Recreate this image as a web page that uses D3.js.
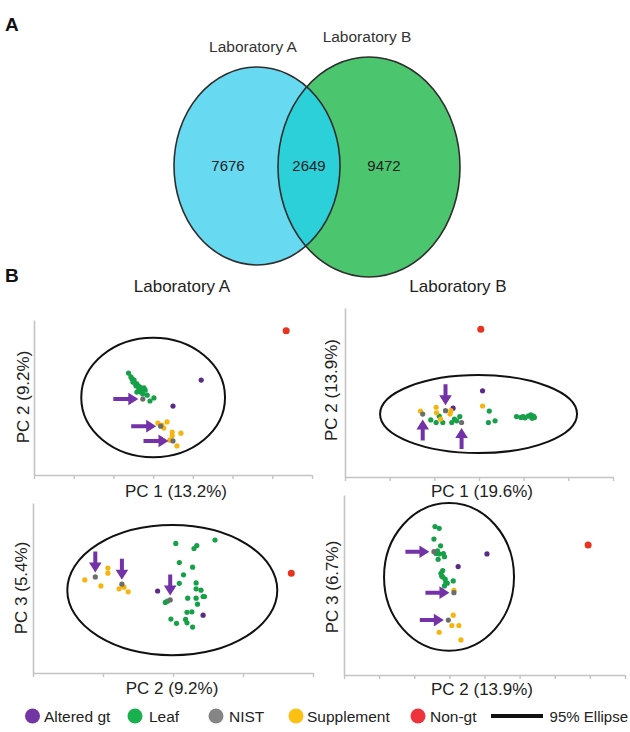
<!DOCTYPE html>
<html><head><meta charset="utf-8">
<script src="https://cdn.jsdelivr.net/npm/d3@7"></script>
<style>html,body{margin:0;padding:0;background:#fff;}svg{display:block;}</style>
</head><body>
<svg id="chart" width="630" height="732"></svg>
<script>
// ===================== DATA =====================
const vennSets = ["Laboratory A", "Laboratory B"];
const vennCounts = [7676, 2649, 9472]; // A only, shared, B only
const figLetters = ["A", "B"];
const labTitles = ["Laboratory A", "Laboratory B"];
const legendGroups = ["Altered gt", "Leaf", "NIST", "Supplement", "Non-gt"];
const ellipseLegend = "95% Ellipse";

// Panel 1: Laboratory A, PC1 vs PC2
const p1AxisTitles = ["PC 1 (13.2%)", "PC 2 (9.2%)"];
const p1XTicks = [-40, -30, -20, -10, 0, 10, 20, 30];
const p1YDomain = [-20, 20];
const p1Leaf = [[-16.2,6.3],[-15.6,5.3],[-15.3,4.8],[-14.8,4.5],[-15.1,4.0],[-14.6,3.7],[-14.1,3.5],[-14.3,3.0],[-13.8,3.0],[-13.3,2.7],[-13.6,2.2],[-12.8,2.2],[-12.3,2.5],[-12.0,1.9],[-13.1,1.4],[-12.6,0.9],[-14.1,1.4],[-11.5,0.6],[-10.8,-0.9],[-9.8,-0.1]];
const p1Supplement = [[-8.8,-6.6],[-7.8,-7.1],[-7.3,-7.9],[-6.5,-6.3],[-5.2,-8.9],[-5.2,-9.9],[-3.0,-9.2],[-4.0,-12.5],[-5.8,-11.0]];
const p1Nist = [[-12.6,-0.4],[-8.1,-7.4],[-5.0,-11.2]];
const p1Altered = [[2.1,4.5],[-5.0,-2.2]];
const p1NonGt = [[23.5,17.2]];
const p1Ellipse = [-10.0, 0.0, 18.1, 15.4]; // cx, cy, rx, ry
const p1Arrows = ["right", "right", "right"];

// Panel 2: Laboratory B, PC1 vs PC2
const p2AxisTitles = ["PC 1 (19.6%)", "PC 2 (13.9%)"];
const p2XTicks = [-30, -20, -10, 0, 10, 20, 30];
const p2YDomain = [-20, 20];
const p2Leaf = [[-10.8,-6.5],[-8.9,-5.6],[-9.6,-7.1],[-8.1,-7.1],[-6.1,-7.1],[-5.5,-6.3],[-5.0,-6.7],[-4.3,-5.7],[2.3,-4.4],[2.1,-7.1],[3.6,-6.7],[8.4,-5.7],[9.4,-5.9],[9.9,-5.7],[10.3,-6.0],[11.0,-5.6],[11.6,-5.3],[11.9,-6.1],[12.2,-5.6],[12.4,-5.9]];
const p2Supplement = [[-13.1,-4.4],[-9.6,-3.5],[-9.5,-4.8],[-6.3,-4.3],[-6.5,-5.1],[-8.6,-6.3],[0.8,-3.2]];
const p2Nist = [[-12.6,-5.1],[-7.5,-4.3],[-3.9,-7.1]];
const p2Altered = [[0.8,0.4],[-5.8,-3.7]];
const p2NonGt = [[0.4,15.0]];
const p2Ellipse = [-0.1, -5.1, 22.05, 9.23];
const p2Arrows = ["up", "down", "up"];

// Panel 3: Laboratory A, PC2 vs PC3
const p3AxisTitles = ["PC 2 (9.2%)", "PC 3 (5.4%)"];
const p3XTicks = [-20, -10, 0, 10, 20];
const p3YDomain = [-20, 20];
const p3Leaf = [[0.4,10.5],[3.0,9.3],[3.4,10.0],[6.0,11.3],[0.9,6.0],[2.8,4.9],[1.5,3.1],[0.9,1.1],[3.3,1.2],[3.3,-0.2],[4.0,-0.5],[4.3,-2.0],[4.5,-2.0],[2.1,-2.4],[3.3,-2.4],[3.5,-3.8],[2.7,-5.6],[2.0,-5.7],[1.8,-7.4],[2.0,-8.2],[2.8,-9.2],[0.5,-8.3],[-0.3,-7.3],[-1.1,-3.4],[-0.8,-3.1]];
const p3Supplement = [[-12.6,1.9],[-10.3,0.5],[-9.3,4.7],[-9.3,3.5],[-7.7,-0.2],[-7.0,0.2],[-6.4,-0.9]];
const p3Nist = [[-11.1,2.6],[-7.3,0.9],[-0.4,-2.8]];
const p3Altered = [[-2.2,-0.7],[4.3,-6.4]];
const p3NonGt = [[16.9,3.5]];
const p3Ellipse = [-0.1, -0.5, 15.0, 15.3];
const p3Arrows = ["down", "down", "down"];

// Panel 4: Laboratory B, PC2 vs PC3
const p4AxisTitles = ["PC 2 (13.9%)", "PC 3 (6.7%)"];
const p4XTicks = [-40, -30, -20, -10, 0, 10, 20, 30, 40];
const p4YDomain = [-20, 20];
const p4Leaf = [[-14.1,13.0],[-12.9,12.6],[-14.4,10.2],[-12.5,8.7],[-13.8,7.0],[-12.9,6.9],[-11.7,7.0],[-11.4,6.3],[-13.2,5.7],[-13.4,7.6],[-11.9,3.2],[-12.4,2.6],[-11.9,1.8],[-11.2,1.3],[-11.0,0.5],[-11.4,-0.2],[-8.9,0.9],[-10.6,0.4],[-12.2,2.0]];
const p4Supplement = [[-8.7,-1.2],[-8.9,-6.7],[-9.3,-9.0],[-7.3,-9.0],[-12.9,-10.5],[-6.7,-12.2]];
const p4Nist = [[-14.4,7.4],[-8.7,-1.7],[-10.3,-7.8]];
const p4Altered = [[0.7,6.9],[-7.5,4.1]];
const p4NonGt = [[29.5,8.9]];
const p4Ellipse = [-10.1, 1.8, 18.5, 16.4];
const p4Arrows = ["right", "right", "right"];

// ===================== STYLE / LAYOUT =====================
const FONT = "'Liberation Sans', Arial, Helvetica, sans-serif";
const dotColors = {altered: "#5a2a88", leaf: "#16a048", nist: "#6c6c6c", supplement: "#f5b50c", nongt: "#e8341f"};
const legendColors = ["#7136a3", "#19b04e", "#858585", "#fbc012", "#f0323c"];
const arrowColor = "#7432a8";
const axisColor = "#c4c4c4";

const svg = d3.select("#chart");

// ---------- Panel A: Venn ----------
const venn = {
  left: {cx: 257, cy: 166, rx: 83, ry: 99},
  right: {cx: 369, cy: 167, rx: 91, ry: 110}
};
const defs = svg.append("defs");
defs.append("clipPath").attr("id", "clipLeft")
  .append("ellipse").attr("cx", venn.left.cx).attr("cy", venn.left.cy).attr("rx", venn.left.rx).attr("ry", venn.left.ry);

svg.append("text").attr("x", 5).attr("y", 31).attr("font-family", FONT).attr("font-weight", "bold")
  .attr("font-size", 19).attr("fill", "#111").text(figLetters[0]);

svg.append("ellipse").attr("cx", venn.left.cx).attr("cy", venn.left.cy).attr("rx", venn.left.rx).attr("ry", venn.left.ry)
  .attr("fill", "#67d9f1");
svg.append("ellipse").attr("cx", venn.right.cx).attr("cy", venn.right.cy).attr("rx", venn.right.rx).attr("ry", venn.right.ry)
  .attr("fill", "#4cc56f");
svg.append("ellipse").attr("cx", venn.right.cx).attr("cy", venn.right.cy).attr("rx", venn.right.rx).attr("ry", venn.right.ry)
  .attr("fill", "#2bd0d9").attr("clip-path", "url(#clipLeft)");
[venn.left, venn.right].forEach(e => {
  svg.append("ellipse").attr("cx", e.cx).attr("cy", e.cy).attr("rx", e.rx).attr("ry", e.ry)
    .attr("fill", "none").attr("stroke", "#2e2e2e").attr("stroke-width", 1.6);
});
const vennLabelPos = [[253, 52], [367, 42]];
vennSets.forEach((s, i) => {
  svg.append("text").attr("x", vennLabelPos[i][0]).attr("y", vennLabelPos[i][1]).attr("text-anchor", "middle")
    .attr("font-family", FONT).attr("font-size", 15.5).attr("fill", "#333").text(s);
});
const vennCountX = [228, 309, 384];
vennCounts.forEach((c, i) => {
  svg.append("text").attr("x", vennCountX[i]).attr("y", 171).attr("text-anchor", "middle")
    .attr("font-family", FONT).attr("font-size", 15).attr("fill", "#222").text(c);
});

// ---------- Panel B: PCA ----------
svg.append("text").attr("x", 5).attr("y", 282).attr("font-family", FONT).attr("font-weight", "bold")
  .attr("font-size", 19).attr("fill", "#111").text(figLetters[1]);
const labTitleX = [182, 458];
labTitles.forEach((t, i) => {
  svg.append("text").attr("x", labTitleX[i]).attr("y", 292).attr("text-anchor", "middle")
    .attr("font-family", FONT).attr("font-size", 17).attr("fill", "#222").text(t);
});

const panels = [
  {box: [34, 312, 320, 475], xt: p1XTicks, yd: p1YDomain, titles: p1AxisTitles, xl: [176, 497], yl: [29, 397],
   leaf: p1Leaf, supplement: p1Supplement, nist: p1Nist, altered: p1Altered, nongt: p1NonGt, ell: p1Ellipse, arrows: p1Arrows, alen: 25, gap: 3},
  {box: [345, 613, 308, 477], xt: p2XTicks, yd: p2YDomain, titles: p2AxisTitles, xl: [482, 497], yl: [337, 390],
   leaf: p2Leaf, supplement: p2Supplement, nist: p2Nist, altered: p2Altered, nongt: p2NonGt, ell: p2Ellipse, arrows: p2Arrows, alen: 21, gap: 4},
  {box: [33, 313, 503, 673], xt: p3XTicks, yd: p3YDomain, titles: p3AxisTitles, xl: [172, 694], yl: [27, 588],
   leaf: p3Leaf, supplement: p3Supplement, nist: p3Nist, altered: p3Altered, nongt: p3NonGt, ell: p3Ellipse, arrows: p3Arrows, alen: 21, gap: 3},
  {box: [344, 625, 495, 675], xt: p4XTicks, yd: p4YDomain, titles: p4AxisTitles, xl: [482, 695], yl: [338, 587],
   leaf: p4Leaf, supplement: p4Supplement, nist: p4Nist, altered: p4Altered, nongt: p4NonGt, ell: p4Ellipse, arrows: p4Arrows, alen: 24, gap: 3}
];

const arrowAngle = {right: 0, down: 90, up: -90, left: 180};

panels.forEach(p => {
  const [x0, x1, y0, y1] = p.box;
  const x = d3.scaleLinear().domain(d3.extent(p.xt)).range([x0, x1]);
  const y = d3.scaleLinear().domain(p.yd).range([y1, y0]);
  const g = svg.append("g");

  // axes
  const xAxis = d3.axisBottom(x).tickValues(p.xt).tickSize(4).tickSizeOuter(0).tickFormat("");
  const gx = g.append("g").attr("transform", `translate(0,${y1})`).call(xAxis);
  gx.select(".domain").attr("stroke", axisColor).attr("stroke-width", 1.6);
  gx.selectAll(".tick line").attr("stroke", axisColor).attr("stroke-width", 1.4);
  const yAxis = d3.axisLeft(y).tickValues([]).tickSizeOuter(0);
  const gy = g.append("g").attr("transform", `translate(${x0},0)`).call(yAxis);
  gy.select(".domain").attr("stroke", axisColor).attr("stroke-width", 1.6);

  // axis titles
  g.append("text").attr("x", p.xl[0]).attr("y", p.xl[1]).attr("text-anchor", "middle")
    .attr("font-family", FONT).attr("font-size", 17).attr("fill", "#222").text(p.titles[0]);
  g.append("text").attr("transform", `translate(${p.yl[0]},${p.yl[1]}) rotate(-90)`).attr("text-anchor", "middle")
    .attr("font-family", FONT).attr("font-size", 17).attr("fill", "#222").text(p.titles[1]);

  // 95% ellipse
  const [ecx, ecy, erx, ery] = p.ell;
  g.append("ellipse").attr("cx", x(ecx)).attr("cy", y(ecy))
    .attr("rx", Math.abs(x(ecx + erx) - x(ecx))).attr("ry", Math.abs(y(ecy + ery) - y(ecy)))
    .attr("fill", "none").attr("stroke", "#111").attr("stroke-width", 2);

  // points
  const drawPts = (arr, color, r) => g.append("g").selectAll("circle").data(arr).join("circle")
    .attr("cx", d => x(d[0])).attr("cy", d => y(d[1])).attr("r", r).attr("fill", color);
  drawPts(p.leaf, dotColors.leaf, 2.6);
  drawPts(p.altered, dotColors.altered, 2.6);
  drawPts(p.supplement, dotColors.supplement, 2.6);
  drawPts(p.nist, dotColors.nist, 2.6);
  drawPts(p.nongt, dotColors.nongt, 3.5);

  // arrows pointing at NIST samples
  const L = p.alen, h = 10, w = 6.3, s = 2;
  const arrowPath = `M0,0 L${-h},${-w} L${-h},${-s} L${-L},${-s} L${-L},${s} L${-h},${s} L${-h},${w} Z`;
  g.append("g").selectAll("path").data(p.nist.map((d, i) => ({d, dir: p.arrows[i]}))).join("path")
    .attr("d", arrowPath).attr("fill", arrowColor)
    .attr("transform", a => {
      const ang = arrowAngle[a.dir] * Math.PI / 180;
      const tx = x(a.d[0]) - p.gap * Math.cos(ang) - 1.5 * Math.cos(ang);
      const ty = y(a.d[1]) - p.gap * Math.sin(ang) - 1.5 * Math.sin(ang);
      return `translate(${tx},${ty}) rotate(${arrowAngle[a.dir]})`;
    });
});

// ---------- Legend ----------
const legCircleX = [32.5, 135, 216, 296, 418];
const legTextX = [44, 149, 229, 307, 430];
const legY = 716;
legendGroups.forEach((t, i) => {
  svg.append("circle").attr("cx", legCircleX[i]).attr("cy", legY).attr("r", 7.5).attr("fill", legendColors[i]);
  svg.append("text").attr("x", legTextX[i]).attr("y", legY + 5.5).attr("font-family", FONT)
    .attr("font-size", 15.5).attr("fill", "#222").text(t);
});
svg.append("rect").attr("x", 491).attr("y", legY - 2).attr("width", 52).attr("height", 4).attr("fill", "#111");
svg.append("text").attr("x", 628).attr("y", legY + 5.5).attr("text-anchor", "end").attr("font-family", FONT)
  .attr("font-size", 15).attr("fill", "#222").text(ellipseLegend);
</script>
</body></html>
